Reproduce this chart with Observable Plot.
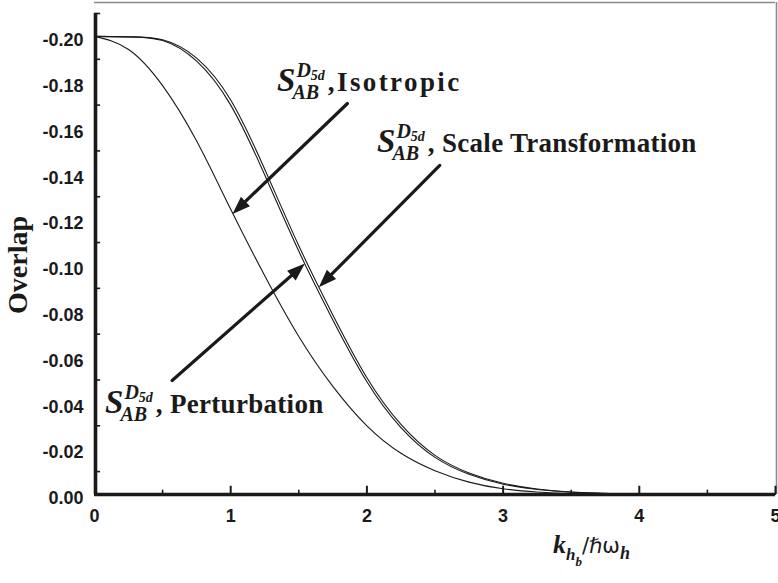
<!DOCTYPE html>
<html>
<head>
<meta charset="utf-8">
<script src="https://cdn.jsdelivr.net/npm/d3@7"></script>
<script src="https://cdn.jsdelivr.net/npm/@observablehq/plot@0.6"></script>
<style>
  html, body { margin: 0; padding: 0; background: #fff; }
  #chart { width: 778px; height: 583px; }
</style>
</head>
<body>
<div id="chart"></div>
<script>
// ---- data ----
const kValues = [0, 0.25, 0.5, 0.75, 1.0, 1.25, 1.5, 1.75, 2.0, 2.25, 2.5, 2.75, 3.0, 3.25, 3.5, 3.75, 4.0, 4.5, 5.0];
const isotropic = [-0.200, -0.1943, -0.1785, -0.1543, -0.1245, -0.0955, -0.0690, -0.0472, -0.0300, -0.0180, -0.0104, -0.0054, -0.0025, -0.0011, -0.0004, -0.0001, 0, 0, 0];
const perturbation = [-0.200, -0.1998, -0.1982, -0.1892, -0.1700, -0.1395, -0.1062, -0.0762, -0.0492, -0.0292, -0.0162, -0.0088, -0.0045, -0.0022, -0.0010, -0.0004, -0.0001, 0, 0];
const scaleTransformation = [-0.200, -0.1998, -0.1985, -0.1905, -0.1722, -0.1420, -0.1086, -0.0784, -0.0510, -0.0306, -0.0171, -0.0094, -0.0049, -0.0024, -0.0011, -0.0005, -0.0001, 0, 0];

const yTickLabels = [0, -0.02, -0.04, -0.06, -0.08, -0.10, -0.12, -0.14, -0.16, -0.18, -0.20];
const yMinorTicks = [-0.01, -0.03, -0.05, -0.07, -0.09, -0.11, -0.13, -0.15, -0.17, -0.19, -0.21];
const xTickLabels = [0, 1, 2, 3, 4, 5];
const xMajorTicks = [1, 2, 3, 4, 5];
const xMinorTicks = [0.5, 1.5, 2.5, 3.5, 4.5];

// annotations (data coordinates)
const arrowNames = ["Isotropic", "Scale Transformation", "Perturbation"];
const arrowX1 = [1.857, 2.535, 0.570];
const arrowY1 = [-0.1707, -0.1437, -0.0498];
const arrowX2 = [1.013, 1.647, 1.545];
const arrowY2 = [-0.1225, -0.0905, -0.1008];
const labelX = [1.344, 2.078, 0.081];
const labelY = [-0.1760, -0.1493, -0.0354];
const labelRest = [",Isotropic", ", Scale Transformation", ", Perturbation"];
const labelSpacing = [2.4, 0.3, 0.3];

// ---- build tables ----
const series = [
  ["Isotropic", isotropic],
  ["Perturbation", perturbation],
  ["Scale Transformation", scaleTransformation]
];
const rows = series.flatMap(([name, vals]) => vals.map((v, i) => ({name, k: kValues[i], overlap: v})));
const arrows = arrowNames.map((n, i) => ({name: n, x1: arrowX1[i], y1: arrowY1[i], x2: arrowX2[i], y2: arrowY2[i]}));

const Y_TOP = -0.2148;
const tickFont = {fontFamily: "'Liberation Sans', Arial, sans-serif", fontSize: 18, fontWeight: "bold", fill: "#1a1a1a"};

function baseMarks() {
  return [
    Plot.ruleY([Y_TOP], {x1: 0, x2: 5, stroke: "#8a8a8a", strokeWidth: 1.3}),
    Plot.ruleX([5], {y1: 0, y2: Y_TOP, stroke: "#8a8a8a", strokeWidth: 1.6, dx: 1}),
    Plot.line(rows, {x: "k", y: "overlap", z: "name", stroke: "#1a1a1a", strokeWidth: 1.1, curve: "natural"}),
    Plot.ruleX([0], {y1: 0, y2: -0.21, stroke: "#1a1a1a", strokeWidth: 3.6, dx: 1}),
    Plot.ruleY([0], {x1: 0, x2: 5, stroke: "#1a1a1a", strokeWidth: 3.6}),
    Plot.ruleY(yMinorTicks, {y: d => d, x1: 0, x2: 0.045, stroke: "#1a1a1a", strokeWidth: 1.6}),
    Plot.ruleX(xMajorTicks, {x: d => d, y1: 0, y2: -0.0036, stroke: "#1a1a1a", strokeWidth: 2}),
    Plot.ruleX(xMinorTicks, {x: d => d, y1: 0, y2: -0.0019, stroke: "#1a1a1a", strokeWidth: 1.6}),
    Plot.axisY(yTickLabels, {anchor: "left", tickSize: 0, tickPadding: 11, dy: 4, tickFormat: d => d.toFixed(2), label: null, ...tickFont}),
    Plot.axisX(xTickLabels, {anchor: "bottom", tickSize: 0, tickPadding: 15, tickFormat: d => String(d), label: null, ...tickFont}),
    Plot.arrow(arrows, {x1: "x1", y1: "y1", x2: "x2", y2: "y2", headLength: 0, insetEnd: 13, stroke: "#1a1a1a", strokeWidth: 3.2})
  ];
}

const plotOptions = {
  width: 778,
  height: 583,
  marginLeft: 94,
  marginRight: 3,
  marginTop: 2,
  marginBottom: 89,
  x: {domain: [0, 5]},
  y: {domain: [0, Y_TOP]},
  style: {background: "#fff", overflow: "visible"}
};

// first pass to obtain scales, for arrowhead orientation
const probe = Plot.plot({...plotOptions, marks: baseMarks()});
const sx = probe.scale("x").apply, sy = probe.scale("y").apply;
arrows.forEach(a => {
  const dx = sx(a.x2) - sx(a.x1), dy = sy(a.y2) - sy(a.y1);
  a.angle = Math.atan2(dx, -dy) * 180 / Math.PI;
});

// elongated filled arrowhead, tip at origin, pointing up
const arrowHead = {
  draw(context) {
    const L = 18, W = 13;
    context.moveTo(0, 0);
    context.lineTo(-W / 2, L);
    context.lineTo(W / 2, L);
    context.closePath();
  }
};

const plot = Plot.plot({
  ...plotOptions,
  marks: [
    ...baseMarks(),
    Plot.dot(arrows, {x: "x2", y: "y2", symbol: arrowHead, r: 5, rotate: "angle", fill: "#1a1a1a", stroke: "none"})
  ]
});
document.getElementById("chart").appendChild(plot);

// ---- rich-text labels (real text) ----
const X = plot.scale("x").apply, Y = plot.scale("y").apply;
const svg = d3.select(plot);
const serif = "'Liberation Serif', 'Times New Roman', serif";

function richLabel(x0, y0, rest, spacing) {
  const g = svg.append("g").attr("font-family", serif).attr("fill", "#1a1a1a").attr("text-anchor", "start");
  const S = g.append("text").attr("x", x0).attr("y", y0)
    .attr("font-size", 33).attr("font-style", "italic").attr("font-weight", "bold").text("S");
  const sw = S.node().getComputedTextLength() || 20;
  const sup = g.append("text").attr("x", x0 + sw + 1).attr("y", y0 - 14)
    .attr("font-size", 20).attr("font-style", "italic").attr("font-weight", "bold");
  sup.append("tspan").text("D");
  sup.append("tspan").attr("font-size", 14).attr("dy", 3).text("5d");
  const sub = g.append("text").attr("x", x0 + sw - 3).attr("y", y0 + 8)
    .attr("font-size", 20).attr("font-style", "italic").attr("font-weight", "bold").text("AB");
  const w = Math.max((sup.node().getComputedTextLength() || 27) + 4, sub.node().getComputedTextLength() || 27);
  g.append("text").attr("x", x0 + sw + w).attr("y", y0)
    .attr("font-size", 27).attr("font-weight", "bold").attr("letter-spacing", spacing)
    .style("white-space", "pre").text(rest);
}
labelRest.forEach((r, i) => richLabel(X(labelX[i]), Y(labelY[i]), r, labelSpacing[i]));

// y axis title
svg.append("text")
  .attr("transform", `translate(${X(0) - 67},${(Y(0) + Y(Y_TOP)) / 2 + 17}) rotate(-90)`)
  .attr("text-anchor", "middle")
  .attr("font-family", serif).attr("font-size", 28).attr("font-weight", "bold").attr("fill", "#1a1a1a")
  .text("Overlap");

// x axis title  k_{h_b}/ℏω_h
(function () {
  const x0 = X(3.37), y0 = Y(0) + 59;
  const g = svg.append("g").attr("font-family", serif).attr("fill", "#1a1a1a").attr("text-anchor", "start");
  const t = g.append("text").attr("x", x0).attr("y", y0).attr("font-size", 26);
  t.append("tspan").attr("font-style", "italic").attr("font-weight", "bold").text("k");
  t.append("tspan").attr("font-style", "italic").attr("font-weight", "bold").attr("font-size", 17).attr("dy", 7).text("h");
  t.append("tspan").attr("font-style", "italic").attr("font-weight", "bold").attr("font-size", 13).attr("dy", 6).text("b");
  t.append("tspan").attr("dy", -13).attr("font-family", "'DejaVu Sans', sans-serif").attr("font-size", 21).text("/\u210F\u03C9");
  t.append("tspan").attr("font-style", "italic").attr("font-weight", "bold").attr("font-size", 18).attr("dy", 6).text("h");
})();
</script>
</body>
</html>
